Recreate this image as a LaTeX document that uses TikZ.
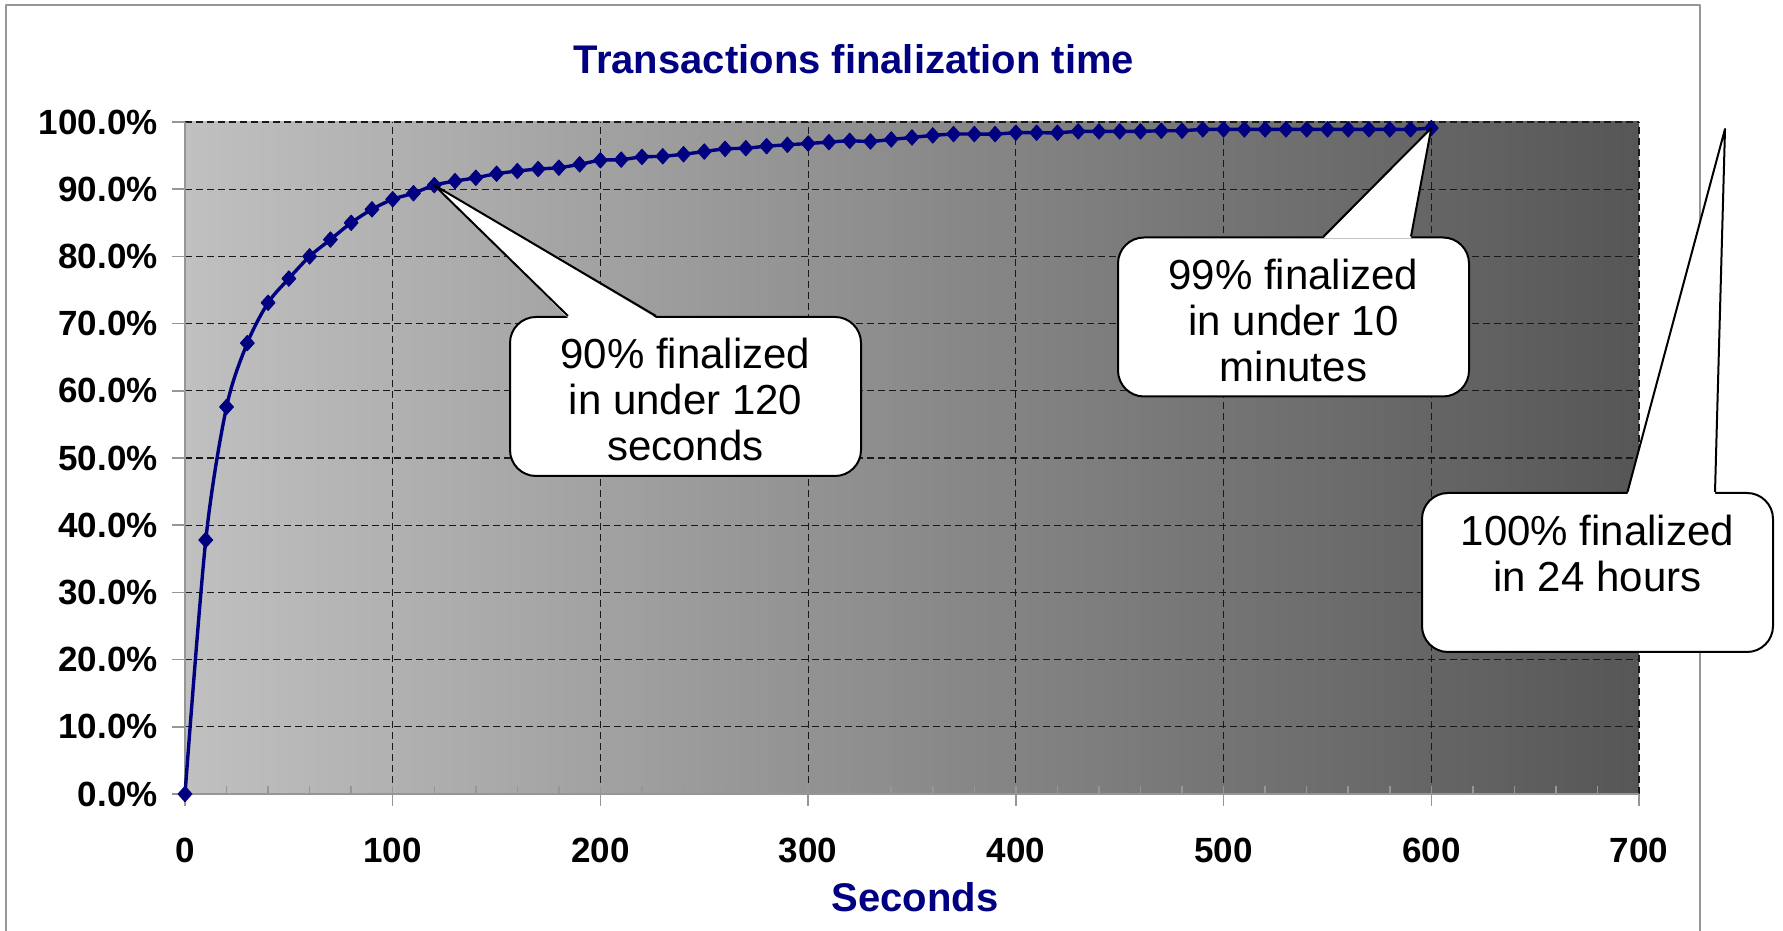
\documentclass[tikz,border=0pt]{standalone}
\usepackage{fontspec}
\setmainfont{Liberation Sans}
\usetikzlibrary{calc,plotmarks}
\definecolor{chartnavy}{RGB}{0,0,128}
\definecolor{plotleft}{RGB}{192,192,192}
\definecolor{plotright}{RGB}{86,86,86}
\definecolor{axisgray}{RGB}{150,150,150}
\tikzset{
  ticklabel/.style={font=\fontsize{17.5}{20}\selectfont\bfseries,inner sep=0pt},
  gridline/.style={dash pattern=on 3.5pt off 2pt,line width=0.6pt,black!90},
  seriesline/.style={chartnavy,line width=1.7pt},
  seriesmark/.style={chartnavy,mark=diamond*,mark size=3.9pt,
    mark options={xscale=1.2,line width=0.4pt,fill=chartnavy}},
  calloutbox/.style={draw=black,fill=white,line width=1pt,rounded corners=13pt,
    minimum width=175.5pt,minimum height=79.5pt,inner sep=0pt},
  callouttext/.style={align=center,font=\fontsize{21}{23}\selectfont,inner sep=0pt,anchor=north}
}
\def\seriesdata{
(0,0) (10,37.8) (20,57.6) (30,67.1) (40,73.1) (50,76.7) (60,80.0) (70,82.5) (80,85.0) (90,87.0)
(100,88.5) (110,89.4) (120,90.6) (130,91.2) (140,91.7) (150,92.3) (160,92.7) (170,93.0) (180,93.2) (190,93.7)
(200,94.3) (210,94.4) (220,94.8) (230,94.9) (240,95.2) (250,95.6) (260,96.0) (270,96.1) (280,96.4) (290,96.6)
(300,96.8) (310,97.0) (320,97.2) (330,97.1) (340,97.4) (350,97.7) (360,98.0) (370,98.2) (380,98.2) (390,98.2)
(400,98.4) (410,98.4) (420,98.4) (430,98.6) (440,98.6) (450,98.6) (460,98.6) (470,98.7) (480,98.7) (490,98.9)
(500,98.9) (510,98.9) (520,98.9) (530,98.9) (540,98.9) (550,98.9) (560,98.9) (570,98.9) (580,98.9) (590,98.9)
(600,99.1)}
\begin{document}
\begin{tikzpicture}[line cap=butt,line join=round,x=1pt,y=1pt]
\useasboundingbox (0,0) rectangle (891.5,465.5);
% chart frame
\draw[axisgray,line width=1pt] (3,-5)--(3,463)--(850,463)--(850,-5);
\node[font=\fontsize{20}{24}\selectfont\bfseries,text=chartnavy] (title) at (427,436) {Transactions finalization time};
% plot area
\shade[left color=plotleft,right color=plotright] (92.5,68.5) rectangle (819.5,404.5);
\begin{scope}[shift={(92.5,68.5)},x=1.03857pt,y=3.36pt]
\foreach \y in {10,20,...,100}
{
\draw[gridline] (0,\y)--(700,\y);
}
\foreach \x in {100,200,...,700}
{
\draw[gridline] (\x,0)--(\x,100);
}
\draw[axisgray,line width=1pt] (0,100)--(0,0)--(700,0);
\foreach \x in {20,40,...,680}
{
\draw[axisgray,line width=0.75pt] (\x,0)--++(0,4pt);
}
\foreach \x in {0,100,...,700}
{
\draw[axisgray,line width=0.75pt] (\x,0)--++(0,-6pt);
\node[ticklabel,yshift=-28pt] at (\x,0) {\x};
}
\foreach \y in {0,10,...,100}
{
\draw[axisgray,line width=0.75pt] (0,\y)--++(-6.5pt,0);
\node[ticklabel,anchor=east,xshift=-13.5pt] at (0,\y) {\y.0\%};
}
% series
\draw[seriesline] plot[smooth,tension=0.5] coordinates {\seriesdata};
\path[seriesmark] plot[only marks] coordinates {\seriesdata};
\coordinate (p120) at (120,90.6);
\coordinate (p600) at (600,99.1);
\end{scope}
\node[font=\fontsize{20}{24}\selectfont\bfseries,text=chartnavy] (xlabel) at (457.5,16.75) {Seconds};
\coordinate (tip24h) at (862.5,401);
% callouts
\node[calloutbox] (note90) at (342.75,267.25) {};
\fill[white] ($(note90.north)+(-58.75,-1)$)--(p120)--($(note90.north)+(-14.75,-1)$)--cycle;
\draw[line width=1pt] ($(note90.north)+(-58.75,0)$)--(p120)--($(note90.north)+(-14.75,0)$);
\node[callouttext] at ($(note90.north)+(0,-11)$) {90\% finalized\\in under 120\\seconds};
\node[calloutbox] (note99) at (646.75,307) {};
\fill[white] ($(note99.north)+(15,-1)$)--(p600)--($(note99.north)+(58.75,-1)$)--cycle;
\draw[line width=1pt] ($(note99.north)+(15,0)$)--(p600)--($(note99.north)+(58.75,0)$);
\node[callouttext] at ($(note99.north)+(0,-11)$) {99\% finalized\\in under 10\\minutes};
\node[calloutbox] (note100) at (798.75,179.25) {};
\fill[white] ($(note100.north)+(15,-1)$)--(tip24h)--($(note100.north)+(58.75,-1)$)--cycle;
\draw[line width=1pt] ($(note100.north)+(15,0)$)--(tip24h)--($(note100.north)+(58.75,0)$);
\node[callouttext] at ($(note100.north)+(0,-11.5)$) {100\% finalized\\in 24 hours};
\end{tikzpicture}
\end{document}
